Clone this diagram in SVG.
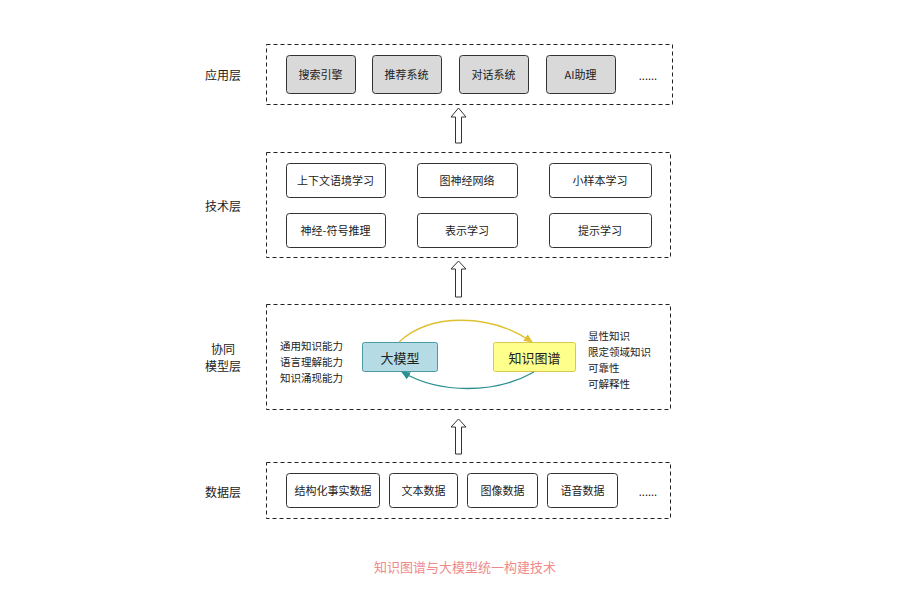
<svg xmlns="http://www.w3.org/2000/svg" width="908" height="605" viewBox="0 0 908 605">
<defs>
<style>
text{font-family:"Noto Sans CJK SC","Noto Sans",sans-serif;fill:#222;dominant-baseline:central}
.layer{fill:none;stroke:#222;stroke-width:1;stroke-dasharray:4 3}
.box{fill:#fff;stroke:#333;stroke-width:1}
.gbox{fill:#d9d9d9;stroke:#333;stroke-width:1}
.t11{font-size:11px;text-anchor:middle}
.lbl{font-size:12px;text-anchor:middle}
.side{font-size:10.5px}
.barrow{fill:#fff;stroke:#333;stroke-width:1}
</style>
<marker id="ay" markerWidth="10" markerHeight="10" refX="8" refY="5" orient="auto" markerUnits="userSpaceOnUse"><path d="M0,1 L9,5 L0,9 Z" fill="#e0c030"/></marker>
<marker id="at" markerWidth="10" markerHeight="10" refX="8" refY="5" orient="auto" markerUnits="userSpaceOnUse"><path d="M0,1 L9,5 L0,9 Z" fill="#2a8f8f"/></marker>
</defs>
<rect width="908" height="605" fill="#fff"/>

<!-- 应用层 -->
<g id="layer-app">
<text class="lbl" x="223" y="74">应用层</text>
<rect class="layer" x="266.5" y="44.5" width="406" height="60"/>
</g>
<g id="app1"><rect class="gbox" x="286.5" y="55.5" width="69" height="38" rx="3"/><text class="t11" x="320.5" y="74">搜索引擎</text></g>
<g id="app2"><rect class="gbox" x="372.5" y="55.5" width="69" height="38" rx="3"/><text class="t11" x="406.5" y="74">推荐系统</text></g>
<g id="app3"><rect class="gbox" x="459.5" y="55.5" width="69" height="38" rx="3"/><text class="t11" x="493.5" y="74">对话系统</text></g>
<g id="app4"><rect class="gbox" x="546.5" y="55.5" width="69" height="38" rx="3"/><text class="t11" x="580.5" y="74">AI助理</text></g>
<g id="app5"><text class="t11" x="648" y="75">......</text></g>

<!-- 技术层 -->
<g id="layer-tech">
<text class="lbl" x="223" y="205">技术层</text>
<rect class="layer" x="266.5" y="152.5" width="404" height="105"/>
</g>
<g id="tech1"><rect class="box" x="286.5" y="163.5" width="99" height="34" rx="3"/><text class="t11" x="335.5" y="180">上下文语境学习</text></g>
<g id="tech2"><rect class="box" x="417.5" y="163.5" width="100" height="34" rx="3"/><text class="t11" x="467" y="180">图神经网络</text></g>
<g id="tech3"><rect class="box" x="549.5" y="163.5" width="102" height="34" rx="3"/><text class="t11" x="600" y="180">小样本学习</text></g>
<g id="tech4"><rect class="box" x="286.5" y="213.5" width="99" height="34" rx="3"/><text class="t11" x="335.5" y="230">神经-符号推理</text></g>
<g id="tech5"><rect class="box" x="417.5" y="213.5" width="100" height="34" rx="3"/><text class="t11" x="467" y="230">表示学习</text></g>
<g id="tech6"><rect class="box" x="549.5" y="213.5" width="102" height="34" rx="3"/><text class="t11" x="600" y="230">提示学习</text></g>

<!-- 协同模型层 -->
<g id="layer-collab">
<text class="lbl" x="223" y="348">协同</text>
<text class="lbl" x="223" y="365">模型层</text>
<rect class="layer" x="266.5" y="304.5" width="404" height="105"/>
<text class="side" x="280" y="345">通用知识能力</text>
<text class="side" x="280" y="361">语言理解能力</text>
<text class="side" x="280" y="377">知识涌现能力</text>
<text class="side" x="588" y="335">显性知识</text>
<text class="side" x="588" y="351">限定领域知识</text>
<text class="side" x="588" y="367">可靠性</text>
<text class="side" x="588" y="383">可解释性</text>
</g>
<g id="llm"><rect x="362.5" y="342.5" width="75" height="29" rx="2" fill="#b5dce4" stroke="#4a9aa5" stroke-width="1"/><text x="400" y="357" style="font-size:13px;text-anchor:middle">大模型</text></g>
<g id="kg"><rect x="493.5" y="342.5" width="82" height="29" rx="2" fill="#ffff8c" stroke="#d8c850" stroke-width="1"/><text x="534.5" y="357" style="font-size:13px;text-anchor:middle">知识图谱</text></g>

<!-- 数据层 -->
<g id="layer-data">
<text class="lbl" x="223" y="491">数据层</text>
<rect class="layer" x="266.5" y="462.5" width="404" height="56"/>
</g>
<g id="data1"><rect class="box" x="286.5" y="473.5" width="93" height="34" rx="3"/><text class="t11" x="333" y="490">结构化事实数据</text></g>
<g id="data2"><rect class="box" x="389.5" y="473.5" width="68" height="34" rx="3"/><text class="t11" x="423.5" y="490">文本数据</text></g>
<g id="data3"><rect class="box" x="467.5" y="473.5" width="70" height="34" rx="3"/><text class="t11" x="502.5" y="490">图像数据</text></g>
<g id="data4"><rect class="box" x="547.5" y="473.5" width="70" height="34" rx="3"/><text class="t11" x="582.5" y="490">语音数据</text></g>
<g id="data5"><text class="t11" x="648" y="491">......</text></g>

<!-- connectors -->
<g id="connectors">
<path class="barrow" d="M458.5,108 L466,117 L461.5,117 L461.5,143 L455.5,143 L455.5,117 L451,117 Z"/>
<path class="barrow" d="M458.5,261 L466,269 L461.5,269 L461.5,297 L455.5,297 L455.5,269 L451,269 Z"/>
<path class="barrow" d="M458.5,419 L466,427 L461.5,427 L461.5,454 L455.5,454 L455.5,427 L451,427 Z"/>
<path d="M399,342 C430,313 490,313 532,342" fill="none" stroke="#e0c030" stroke-width="1.3" marker-end="url(#ay)"/>
<path d="M534,372 C495,394 440,394 402,372" fill="none" stroke="#2a8f8f" stroke-width="1.3" marker-end="url(#at)"/>
</g>

<text x="465" y="566" style="font-size:13px;text-anchor:middle;fill:#f08a8a">知识图谱与大模型统一构建技术</text>
</svg>
